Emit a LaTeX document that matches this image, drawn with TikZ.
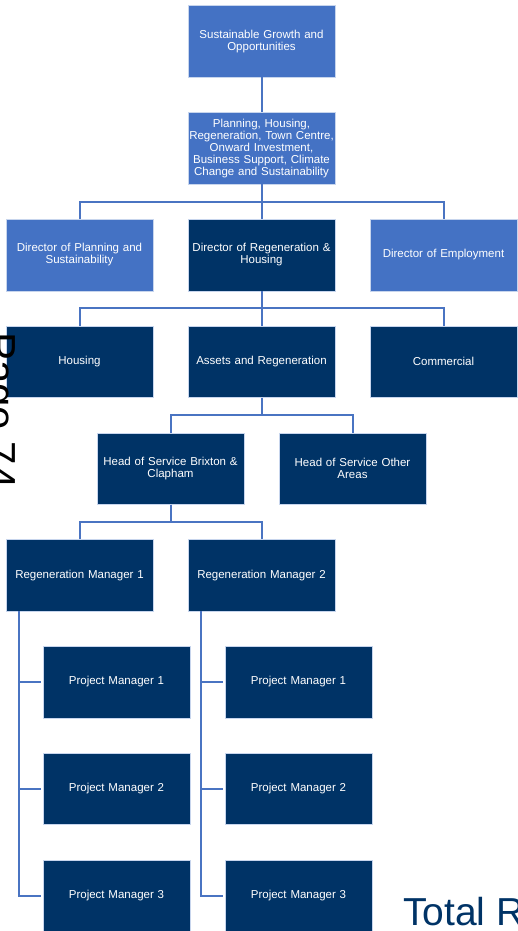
\documentclass[tikz,border=0pt]{standalone}
\usepackage{fontspec}
\setmainfont{Liberation Sans}
\usetikzlibrary{positioning}
\definecolor{lightblue}{HTML}{4472C4}
\definecolor{darkblue}{HTML}{003366}
\definecolor{linkblue}{HTML}{4A74C2}

\begin{document}
\begin{tikzpicture}[node distance=34.75pt and 35pt,
    box/.style={rectangle, draw=white!70!lightblue, line width=0.5pt, minimum width=146.5pt, minimum height=71.5pt,
        text width=146pt, align=center, inner sep=0pt, text=white, font=\fontsize{11.5}{12}\selectfont},
    lightbox/.style={box, fill=lightblue},
    darkbox/.style={box, fill=darkblue},
    link/.style={draw=linkblue, line width=2pt}]
    \useasboundingbox (0,0) rectangle (518pt,-931pt);

    \node (sgo) [lightbox] at (261.5pt,-41.5pt) {Sustainable Growth and\\Opportunities};
    \node (portfolio) [lightbox, below=of sgo] {Planning, Housing,\\Regeneration, Town Centre,\\Onward Investment,\\Business Support, Climate\\Change and Sustainability};
    \node (dirregen) [darkbox, below=of portfolio] {Director of Regeneration \&\\Housing};
    \node (dirplan) [lightbox, left=of dirregen] {Director of Planning and\\Sustainability};
    \node (diremp) [lightbox, right=of dirregen] {Director of Employment};
    \node (assets) [darkbox, below=of dirregen] {Assets and Regeneration};
    \node (housing) [darkbox, left=of assets] {Housing};
    \node (commercial) [darkbox, right=of assets] {Commercial};
    \node (hosbc) [darkbox, below=of assets, xshift=-91pt] {Head of Service Brixton \&\\Clapham};
    \node (hosother) [darkbox, right=of hosbc] {Head of Service Other\\Areas};
    \node (regman1) [darkbox, below=of hosbc, xshift=-91pt] {Regeneration Manager 1};
    \node (regman2) [darkbox, right=of regman1] {Regeneration Manager 2};

    \node (pm11) [darkbox, below=of regman1, xshift=37pt] {Project Manager 1};
    \node (pm12) [darkbox, below=of pm11] {Project Manager 2};
    \node (pm13) [darkbox, below=of pm12] {Project Manager 3};
    \node (pm21) [darkbox, below=of regman2, xshift=37pt] {Project Manager 1};
    \node (pm22) [darkbox, below=of pm21] {Project Manager 2};
    \node (pm23) [darkbox, below=of pm22] {Project Manager 3};

    \draw[link] (sgo) -- (portfolio);
    \draw[link] (portfolio.south) -- ++(0,-17.4pt) -| (dirplan.north);
    \draw[link] (portfolio.south) -- ++(0,-17.4pt) -| (diremp.north);
    \draw[link] (portfolio) -- (dirregen);

    \draw[link] (dirregen.south) -- ++(0,-17.4pt) -| (housing.north);
    \draw[link] (dirregen.south) -- ++(0,-17.4pt) -| (commercial.north);
    \draw[link] (dirregen) -- (assets);

    \draw[link] (assets.south) -- ++(0,-17.4pt) -| (hosbc.north);
    \draw[link] (assets.south) -- ++(0,-17.4pt) -| (hosother.north);

    \draw[link] (hosbc.south) -- ++(0,-17.4pt) -| (regman1.north);
    \draw[link] (hosbc.south) -- ++(0,-17.4pt) -| (regman2.north);

    % project managers hang off a side trunk
    \coordinate (trunk1) at ([xshift=13pt]regman1.south west);
    \coordinate (trunk2) at ([xshift=13pt]regman2.south west);
    \draw[link, shorten >=2pt] (trunk1) |- (pm13.west);
    \draw[link, shorten >=2pt] (trunk1 |- pm11.west) -- (pm11.west);
    \draw[link, shorten >=2pt] (trunk1 |- pm12.west) -- (pm12.west);
    \draw[link, shorten >=2pt] (trunk2) |- (pm23.west);
    \draw[link, shorten >=2pt] (trunk2 |- pm21.west) -- (pm21.west);
    \draw[link, shorten >=2pt] (trunk2 |- pm22.west) -- (pm22.west);

    \node (pagenum) [rotate=-90, anchor=base west, inner sep=0pt, font=\fontsize{42}{42}\selectfont] at (-13pt,-332pt) {Page 74};
    \node (total) [anchor=base west, inner sep=0pt, text=darkblue, font=\fontsize{39}{39}\selectfont] at (403pt,-925pt) {Total R};
\end{tikzpicture}
\end{document}
